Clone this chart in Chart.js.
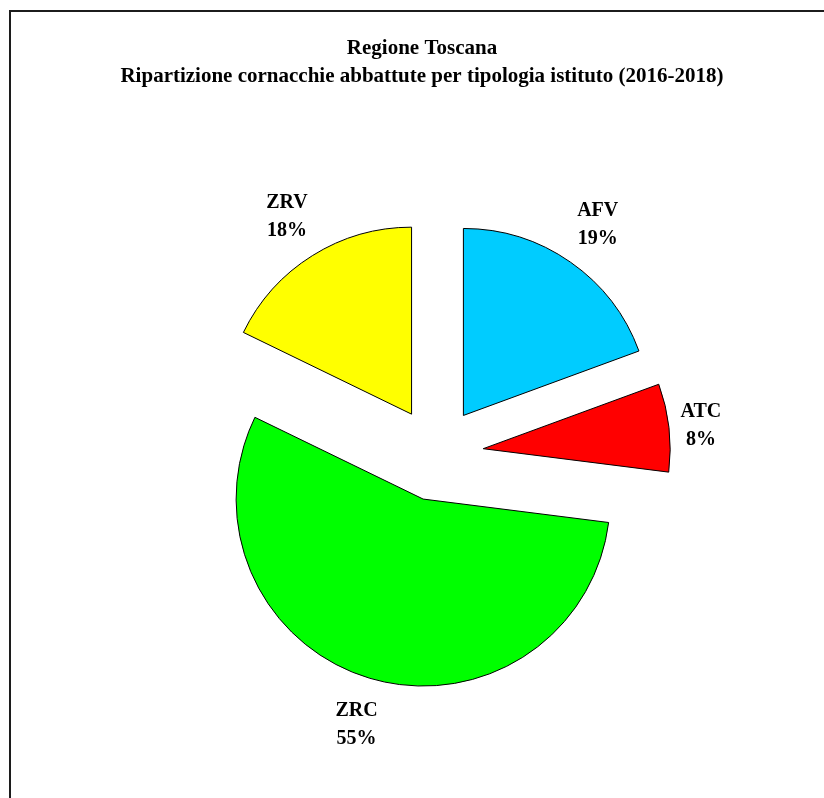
<!DOCTYPE html>
<html>
<head>
<meta charset="utf-8">
<script src="https://cdn.jsdelivr.net/npm/chart.js@4.4.1/dist/chart.umd.min.js"></script>
<style>
  html, body { margin: 0; padding: 0; background: #ffffff; overflow: hidden; }
  #wrap { position: relative; width: 824px; height: 798px; overflow: hidden; }
  #frame { position: absolute; left: 9px; top: 10px; width: 900px; height: 900px;
           border-left: 2px solid #1c1c1c; border-top: 2px solid #1c1c1c; pointer-events: none; }
  canvas { position: absolute; left: 0; top: 0; }
</style>
</head>
<body>
<div id="wrap">
  <canvas id="c" width="824" height="798"></canvas>
  <div id="frame"></div>
</div>
<script>
// ---- data ----
const categories = ['AFV', 'ATC', 'ZRC', 'ZRV'];
const shares = [19.4, 7.6, 55.2, 17.8];
const sliceColors = ['#00CCFF', '#FF0000', '#00FF00', '#FFFF00'];
const titleLines = [
  'Regione Toscana',
  'Ripartizione cornacchie abbattute per tipologia istituto (2016-2018)'
];

// ---- style constants ----
const EXPLODE = 47;
const LABEL_SIZE = 20;
const LABEL_FONT = 'bold ' + LABEL_SIZE + 'px "Liberation Serif", "Times New Roman", serif';
const TITLE_FONT = 'bold 21px "Liberation Serif", "Times New Roman", serif';
const LABEL_LINE = 28;
const TITLE_X = 422;

const explodePlugin = {
  id: 'explode',
  beforeDatasetDraw(chart, args) {
    const ctx = chart.ctx;
    args.meta.data.forEach(arc => {
      const mid = (arc.startAngle + arc.endAngle) / 2;
      ctx.save();
      ctx.translate(Math.cos(mid) * EXPLODE, Math.sin(mid) * EXPLODE);
      arc.draw(ctx);
      ctx.restore();
    });
    return false;
  }
};

const labelPlugin = {
  id: 'sliceLabels',
  afterDraw(chart) {
    const ctx = chart.ctx;
    const meta = chart.getDatasetMeta(0);
    const vals = chart.data.datasets[0].data;
    const total = vals.reduce((a, b) => a + b, 0);
    const capHalf = LABEL_SIZE * 0.662 / 2;
    ctx.save();
    ctx.fillStyle = '#000000';
    ctx.textAlign = 'center';
    ctx.textBaseline = 'alphabetic';
    ctx.font = LABEL_FONT;
    meta.data.forEach((arc, i) => {
      const mid = (arc.startAngle + arc.endAngle) / 2;
      const ux = Math.cos(mid), uy = Math.sin(mid);
      const vx = arc.x + ux * EXPLODE, vy = arc.y + uy * EXPLODE;
      const l1 = chart.data.labels[i];
      const l2 = Math.round(vals[i] / total * 100) + '%';
      const hw = Math.max(ctx.measureText(l1).width, ctx.measureText(l2).width) / 2;
      const hh = LABEL_LINE + 6;
      const d = arc.outerRadius + 8 + Math.abs(ux) * hw + Math.abs(uy) * hh;
      const cx = vx + ux * d, cy = vy + uy * d;
      ctx.fillText(l1, cx, cy - LABEL_LINE / 2 + capHalf);
      ctx.fillText(l2, cx, cy + LABEL_LINE / 2 + capHalf);
    });
    ctx.font = TITLE_FONT;
    ctx.fillText(titleLines[0], TITLE_X, 54);
    ctx.fillText(titleLines[1], TITLE_X, 82);
    ctx.restore();
  }
};

new Chart(document.getElementById('c'), {
  type: 'pie',
  data: {
    labels: categories,
    datasets: [{
      data: shares,
      backgroundColor: sliceColors,
      borderColor: '#000000',
      borderWidth: 1,
      borderJoinStyle: 'miter',
      radius: 187
    }]
  },
  options: {
    responsive: false,
    animation: false,
    events: [],
    layout: { padding: { left: 49, right: 0, top: 110, bottom: 0 } },
    plugins: {
      legend: { display: false },
      tooltip: { enabled: false },
      title: { display: false }
    }
  },
  plugins: [explodePlugin, labelPlugin]
});
</script>
</body>
</html>
